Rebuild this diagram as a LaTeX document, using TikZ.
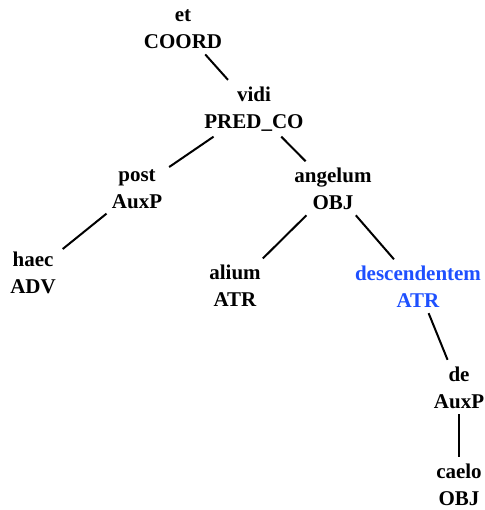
\documentclass[tikz,border=0pt]{standalone}
\usepackage{fontspec}
\setmainfont{Liberation Serif}
\definecolor{selblue}{RGB}{30,80,255}

\begin{document}
\begin{tikzpicture}%
  [x=0.5pt,y=-0.5pt,
   word/.style=
    {align=center,inner sep=2.5pt,font=\fontsize{10.5}{13.5}\selectfont\bfseries},
   chosen/.style={word,text=selblue},
   dep/.style={line width=1pt,shorten >=1pt}
  ]
  \useasboundingbox (0,0) rectangle (484,510);
  \node[word] (et) at (183,29.5) {et\\COORD};
  \node[word] (vidi) at (254,109) {vidi\\PRED\_CO};
  \node[word] (post) at (137,189) {post\\AuxP};
  \node[word] (angelum) at (333,189) {angelum\\OBJ};
  \node[word] (haec) at (33,273) {haec\\ADV};
  \node[word] (alium) at (235,286) {alium\\ATR};
  \node[chosen] (desc) at (418,287) {descendentem\\ATR};
  \node[word] (de) at (459,388) {de\\AuxP};
  \node[word] (caelo) at (459,485) {caelo\\OBJ};
  \draw[dep] (et) -- (vidi);
  \draw[dep] (vidi) -- (post);
  \draw[dep] (vidi) -- (angelum);
  \draw[dep] (post) -- (haec);
  \draw[dep] (angelum) -- (alium);
  \draw[dep] (angelum) -- (desc);
  \draw[dep] (desc) -- (de);
  \draw[dep] (de) -- (caelo);
\end{tikzpicture}
\end{document}
